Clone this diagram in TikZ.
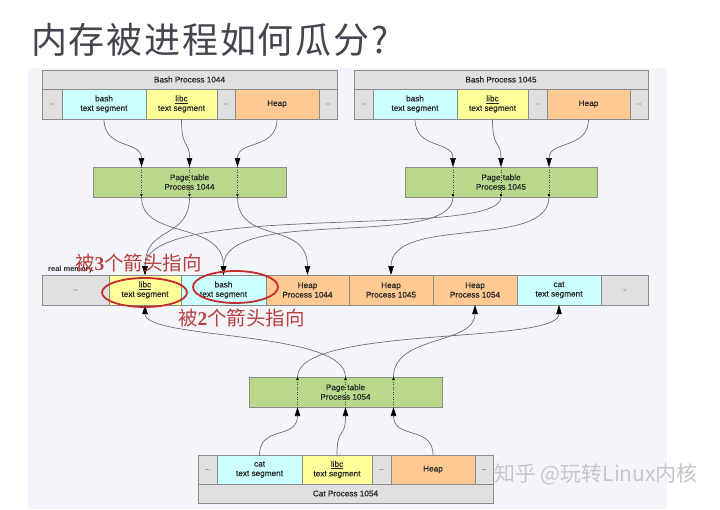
\documentclass[tikz,border=0pt]{standalone}
\usepackage{fontspec}
\setmainfont{Liberation Sans}
\newfontfamily\cellfont[FakeBold=0.4]{Liberation Sans}
\newfontfamily\cjkfont{Noto Sans CJK SC}
\newfontfamily\titlefont[LetterSpace=5]{Noto Sans CJK SC}
\newfontfamily\serifb{Liberation Serif}
\usetikzlibrary{arrows.meta,calc}
\definecolor{cellgray}{HTML}{E0E0E0}
\definecolor{cyanc}{HTML}{CCFFFF}
\definecolor{yellowc}{HTML}{FFFF99}
\definecolor{orangec}{HTML}{FFC993}
\definecolor{greenc}{HTML}{B8D98C}
\definecolor{bordc}{HTML}{8A8A8A}
\definecolor{panelc}{HTML}{F4F5FA}
\definecolor{linec}{HTML}{707070}
\definecolor{redc}{HTML}{C62B2B}
\definecolor{redt}{HTML}{B8403E}
\definecolor{titlec}{HTML}{45454D}
\definecolor{wmc}{HTML}{C6C6CC}
\newcommand\dd{{\fontsize{6}{6}\selectfont\color{black!55}...}}
\newcommand\lib{\underline{libc}}
\newcommand\mycell[7]{\node[cellbox,fill=#2,minimum width={(#5-#3)*1pt},minimum height={(#6-#4)*1pt}] (#1) at ({(#3+#5)/2},{(#4+#6)/2}) {#7};}
\tikzset{
  cellbox/.style={draw=bordc, line width=0.7pt, inner sep=0pt, outer sep=0pt, align=center,
    font=\cellfont\fontsize{8.2}{9.5}\selectfont, text=black!85},
  arr/.style={draw=linec, line width=0.7pt, -{Triangle[length=9pt,width=5.5pt,color=black]}},
  dotl/.style={draw=black!75, dotted, line width=0.5pt, -{Triangle[length=3pt,width=2.5pt,color=black]}},
  redell/.style={draw=redc, line width=1.8pt},
  redtxt/.style={text=redt, inner sep=0pt, font=\cjkfont\fontsize{19.5}{21}\selectfont},
}
\begin{document}
\begin{tikzpicture}[x=1pt,y=-1pt]
\useasboundingbox (0,0) rectangle (720,509);
\fill[white] (0,0) rectangle (720,509);
\fill[panelc] (28,68) rectangle (667,509);

\node[anchor=west, inner sep=0pt, font=\titlefont\fontsize{36}{40}\selectfont, text=titlec] (title) at (31,40) {内存被进程如何瓜分?};

% Bash Process 1044
\mycell{h44}{cellgray}{42}{70}{337}{89}{Bash Process 1044}
\mycell{d44a}{cellgray}{42}{89}{62}{119}{\dd}
\mycell{bash44}{cyanc}{62}{89}{146}{119}{bash\\text segment}
\mycell{libc44}{yellowc}{146}{89}{217}{119}{\lib\\text segment}
\mycell{d44b}{cellgray}{217}{89}{235}{119}{\dd}
\mycell{heap44}{orangec}{235}{89}{319}{119}{Heap}
\mycell{d44c}{cellgray}{319}{89}{337}{119}{\dd}

% Bash Process 1045
\mycell{h45}{cellgray}{354}{70}{648}{89}{Bash Process 1045}
\mycell{d45a}{cellgray}{354}{89}{373}{119}{\dd}
\mycell{bash45}{cyanc}{373}{89}{457}{119}{bash\\text segment}
\mycell{libc45}{yellowc}{457}{89}{528}{119}{\lib\\text segment}
\mycell{d45b}{cellgray}{528}{89}{547}{119}{\dd}
\mycell{heap45}{orangec}{547}{89}{630}{119}{Heap}
\mycell{d45c}{cellgray}{630}{89}{648}{119}{\dd}

% Page tables
\mycell{pt44}{greenc}{93}{167}{286}{197}{Page table\\Process 1044}
\mycell{pt45}{greenc}{405}{167}{597}{197}{Page table\\Process 1045}
\mycell{pt54}{greenc}{249}{377}{442}{407}{Page table\\Process 1054}

% real memory
\mycell{m0}{cellgray}{42}{275}{109}{305}{\dd}
\mycell{mlibc}{yellowc}{109}{275}{181}{305}{\lib\\text segment}
\mycell{mbash}{cyanc}{181}{275}{266}{305}{bash\\text segment}
\mycell{mh44}{orangec}{266}{275}{349}{305}{Heap\\Process 1044}
\mycell{mh45}{orangec}{349}{275}{433}{305}{Heap\\Process 1045}
\mycell{mh54}{orangec}{433}{275}{517}{305}{Heap\\Process 1054}
\mycell{mcat}{cyanc}{517}{275}{601}{305}{cat\\text segment}
\mycell{m9}{cellgray}{601}{275}{648}{305}{\dd}
\node[anchor=base west, inner sep=0pt, font=\bfseries\fontsize{7.5}{8}\selectfont, text=black!85] (rm) at (48,271) {real memory};

% Cat Process 1054
\mycell{c0}{cellgray}{198}{455}{217}{484}{\dd}
\mycell{ccat}{cyanc}{217}{455}{302}{484}{cat\\text segment}
\mycell{clibc}{yellowc}{302}{455}{372}{484}{\lib\\text segment}
\mycell{c1}{cellgray}{372}{455}{391}{484}{\dd}
\mycell{cheap}{orangec}{391}{455}{475}{484}{Heap}
\mycell{c2}{cellgray}{475}{455}{493}{484}{\dd}
\mycell{hc}{cellgray}{198}{484}{493}{503}{Cat Process 1054}

% page table entry points
\coordinate (t44a) at ($(pt44.north)+(-48,0)$);
\coordinate (t44b) at ($(pt44.north)+(0,0)$);
\coordinate (t44c) at ($(pt44.north)+(48,0)$);
\coordinate (b44a) at ($(pt44.south)+(-48,0)$);
\coordinate (b44b) at ($(pt44.south)+(0,0)$);
\coordinate (b44c) at ($(pt44.south)+(48,0)$);
\coordinate (t45a) at ($(pt45.north)+(-48,0)$);
\coordinate (t45b) at ($(pt45.north)+(0,0)$);
\coordinate (t45c) at ($(pt45.north)+(48,0)$);
\coordinate (b45a) at ($(pt45.south)+(-48,0)$);
\coordinate (b45b) at ($(pt45.south)+(0,0)$);
\coordinate (b45c) at ($(pt45.south)+(48,0)$);
\coordinate (t54a) at ($(pt54.north)+(-48,0)$);
\coordinate (t54b) at ($(pt54.north)+(0,0)$);
\coordinate (t54c) at ($(pt54.north)+(48,0)$);
\coordinate (b54a) at ($(pt54.south)+(-48,0)$);
\coordinate (b54b) at ($(pt54.south)+(0,0)$);
\coordinate (b54c) at ($(pt54.south)+(48,0)$);

% processes to page tables
\draw[arr] (bash44.south) .. controls +(0,31) and +(0,-27) .. (t44a);
\draw[arr] (libc44.south) .. controls +(0,31) and +(0,-27) .. (t44b);
\draw[arr] (heap44.south) .. controls +(0,31) and +(0,-27) .. (t44c);
\draw[arr] (bash45.south) .. controls +(0,31) and +(0,-27) .. (t45a);
\draw[arr] (libc45.south) .. controls +(0,31) and +(0,-27) .. (t45b);
\draw[arr] (heap45.south) .. controls +(0,31) and +(0,-27) .. (t45c);
\draw[arr] (ccat.north) .. controls +(0,-30) and +(0,33) .. (b54a);
\draw[arr] (clibc.north) .. controls +(0,-30) and +(0,33) .. (b54b);
\draw[arr] (cheap.north) .. controls +(0,-30) and +(0,33) .. (b54c);

% dotted through page tables
\draw[dotl] (t44a) -- (b44a);
\draw[dotl] (t44b) -- (b44b);
\draw[dotl] (t44c) -- (b44c);
\draw[dotl] (t45a) -- (b45a);
\draw[dotl] (t45b) -- (b45b);
\draw[dotl] (t45c) -- (b45c);
\draw[dotl] (b54a) -- (t54a);
\draw[dotl] (b54b) -- (t54b);
\draw[dotl] (b54c) -- (t54c);

% page tables to real memory
\draw[arr] (b44a) .. controls +(0,43) and +(0,-55) .. (mbash.north);
\draw[arr] (b44b) .. controls +(0,43) and +(0,-50) .. (mlibc.north);
\draw[arr] (b44c) .. controls +(0,48) and +(0,-55) .. (mh44.north);
\draw[arr] (b45a) .. controls +(0,53) and +(0,-70) .. (mbash.north);
\draw[arr] (b45b) .. controls +(0,43) and +(0,-75) .. (mlibc.north);
\draw[arr] (b45c) .. controls +(0,53) and +(0,-60) .. (mh45.north);
\draw[arr] (t54a) .. controls +(0,-52) and +(0,40) .. (mcat.south);
\draw[arr] (t54b) .. controls +(0,-47) and +(0,35) .. (mlibc.south);
\draw[arr] (t54c) .. controls +(0,-42) and +(0,40) .. (mh54.south);

% red marks
\draw[redell] (144.5,292.5) ellipse [x radius=42.5pt, y radius=14.5pt];
\draw[redell] (235.5,287) ellipse [x radius=42.5pt, y radius=16pt];
\node[redtxt, anchor=west] (r3) at (75,263) {被{\serifb\bfseries 3}个箭头指向};
\node[redtxt, anchor=west] (r2) at (178,318) {被{\serifb\bfseries 2}个箭头指向};

% watermark
\node[anchor=west, inner sep=0pt, font=\cjkfont\fontsize{21}{22}\selectfont, text=wmc] (wm) at (494,474) {知乎 @玩转Linux内核};
\end{tikzpicture}
\end{document}
